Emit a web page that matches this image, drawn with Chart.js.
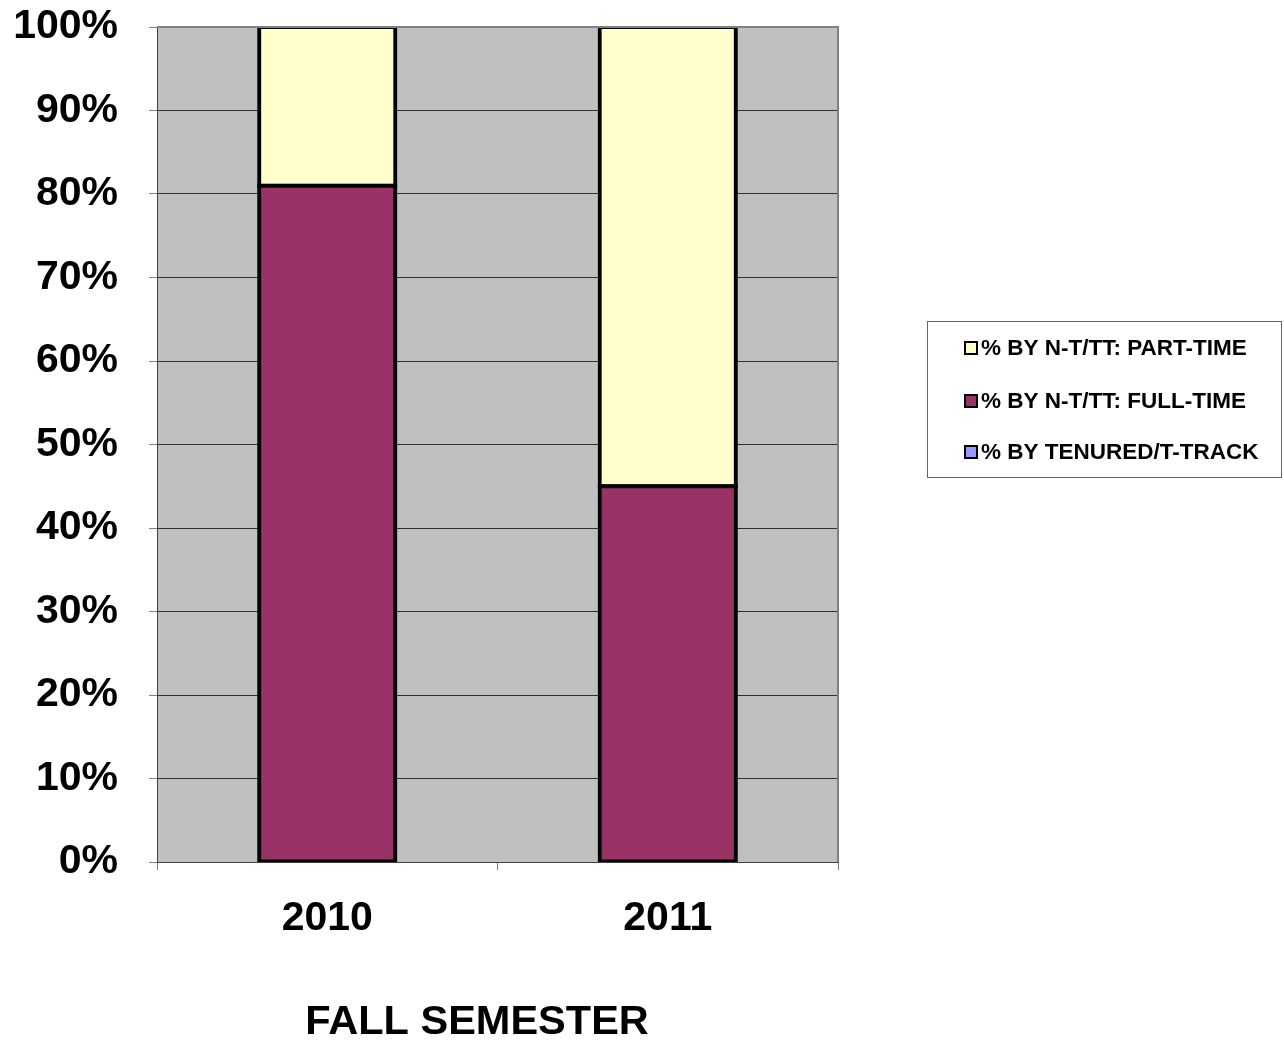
<!DOCTYPE html>
<html>
<head>
<meta charset="utf-8">
<script src="https://cdn.jsdelivr.net/npm/chart.js@4"></script>
<style>
  html, body { margin: 0; padding: 0; background: #fff; }
  canvas { display: block; }
</style>
</head>
<body>
<canvas id="chart" width="1284" height="1040"></canvas>
<script>
// ===== data =====
const years = ['2010', '2011'];
const tenuredPct = [0, 0];
const fullTimePct = [81, 45];
const partTimePct = [19, 55];
const seriesNames = ['% BY TENURED/T-TRACK', '% BY N-T/TT: FULL-TIME', '% BY N-T/TT: PART-TIME'];
const seriesColors = ['#9999FF', '#993366', '#FFFFCC'];
const axisTitle = 'FALL SEMESTER';

const FONT = "'Liberation Sans', Arial, sans-serif";

// grey plot background + grey frame on top/right
const plotFrame = {
  id: 'plotFrame',
  beforeDraw(chart) {
    const a = chart.chartArea, ctx = chart.ctx;
    ctx.save();
    ctx.fillStyle = '#C0C0C0';
    ctx.fillRect(a.left, a.top, a.right - a.left, a.bottom - a.top);
    ctx.restore();
  },
  afterDatasetsDraw(chart) {
    const a = chart.chartArea, ctx = chart.ctx;
    ctx.save();
    ctx.strokeStyle = '#808080';
    ctx.lineWidth = 2;
    ctx.beginPath();
    ctx.moveTo(a.left, a.top);
    ctx.lineTo(a.right, a.top);
    ctx.lineTo(a.right, a.bottom);
    ctx.stroke();
    ctx.restore();
  }
};

// boxed legend on the right, last series first
const boxLegend = {
  id: 'boxLegend',
  afterDraw(chart) {
    const ctx = chart.ctx;
    ctx.save();
    ctx.strokeStyle = '#666';
    ctx.lineWidth = 1;
    ctx.strokeRect(927.5, 321.5, 354, 156);
    const rows = [348, 401, 452];
    const ds = chart.data.datasets.slice().reverse();
    ds.forEach((d, i) => {
      const y = rows[i];
      ctx.fillStyle = d.backgroundColor;
      ctx.fillRect(965, y - 6, 12, 12);
      ctx.strokeStyle = '#000';
      ctx.lineWidth = 2;
      ctx.strokeRect(965, y - 6, 12, 12);
      ctx.fillStyle = '#000';
      ctx.font = 'bold 22.5px ' + FONT;
      ctx.textBaseline = 'middle';
      ctx.textAlign = 'left';
      ctx.fillText(d.label, 981, y + 1);
    });
    // x axis title
    ctx.font = 'bold 41.5px ' + FONT;
    ctx.textAlign = 'center';
    ctx.textBaseline = 'alphabetic';
    ctx.fillText(axisTitle, 477, 1034);
    ctx.restore();
  }
};

const barStyle = { borderColor: '#000', borderWidth: 4, inflateAmount: 2, borderSkipped: false,
                   barPercentage: 0.8, categoryPercentage: 0.5 };

new Chart(document.getElementById('chart'), {
  type: 'bar',
  data: {
    labels: years,
    datasets: [
      { label: seriesNames[0], data: tenuredPct, backgroundColor: seriesColors[0],
        borderWidth: 0, inflateAmount: 0, barPercentage: 0.8, categoryPercentage: 0.5 },
      Object.assign({ label: seriesNames[1], data: fullTimePct, backgroundColor: seriesColors[1] }, barStyle),
      Object.assign({ label: seriesNames[2], data: partTimePct, backgroundColor: seriesColors[2] }, barStyle)
    ]
  },
  options: {
    responsive: false,
    animation: false,
    layout: { padding: { left: 0, top: 27, right: 446, bottom: 0 } },
    plugins: {
      legend: { display: false },
      tooltip: { enabled: false }
    },
    scales: {
      x: {
        stacked: true,
        afterFit: s => { s.height = 178; s.paddingLeft = 0; s.paddingRight = 0; },
        grid: { drawOnChartArea: false, offset: true, tickLength: 8, color: '#808080' },
        border: { color: '#404040', width: 1 },
        ticks: { color: '#000', padding: 24, font: { family: FONT, size: 41, weight: 'bold' } }
      },
      y: {
        stacked: true,
        min: 0,
        max: 100,
        afterFit: s => { s.width = 157; s.paddingTop = 0; s.paddingBottom = 0; },
        grid: { color: '#303030', lineWidth: 1, tickLength: 8, tickColor: '#808080' },
        border: { color: '#404040', width: 1 },
        ticks: {
          stepSize: 10,
          padding: 31,
          color: '#000',
          font: { family: FONT, size: 41, weight: 'bold' },
          callback: v => v + '%'
        }
      }
    }
  },
  plugins: [plotFrame, boxLegend]
});
</script>
</body>
</html>
